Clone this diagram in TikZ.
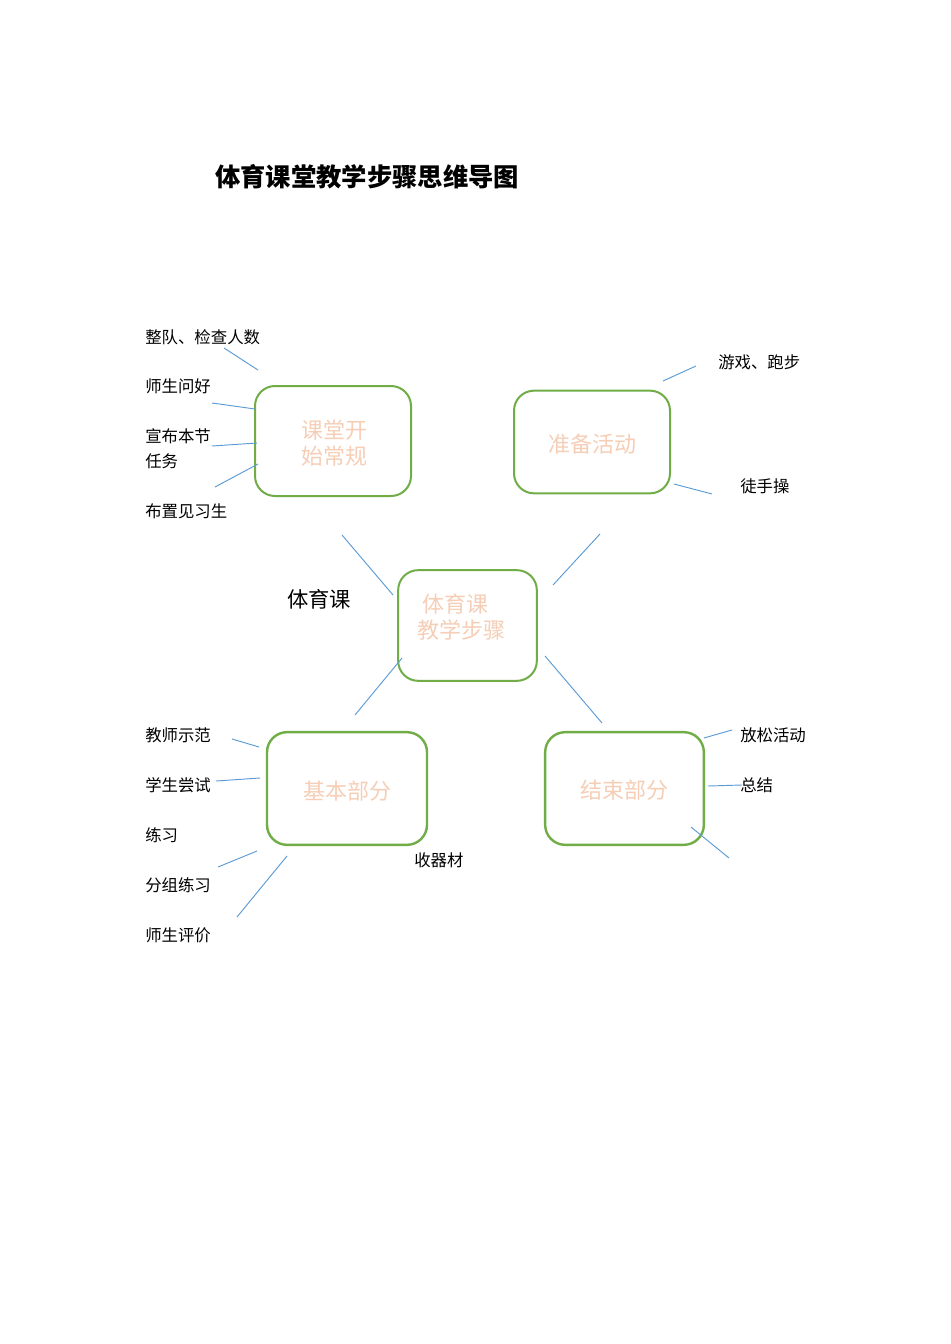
\documentclass[tikz,border=0pt]{standalone}
\usepackage{fontspec}
\setmainfont{Noto Sans CJK SC}
\definecolor{boxgreen}{RGB}{112,173,71}
\definecolor{linkblue}{RGB}{91,155,213}
\definecolor{boxtext}{RGB}{246,206,182}
\begin{document}
\begin{tikzpicture}[x=0.75pt,y=-0.75pt,
  mbox/.style={draw=boxgreen,line width=1.5pt,rounded corners=15pt,inner sep=0pt},
  btext/.style={text=boxtext,font=\fontsize{16.5}{19.5}\selectfont,align=center,inner sep=0pt},
  lbl/.style={anchor=west,inner sep=0pt,font=\fontsize{12.3}{14}\selectfont},
  link/.style={draw=linkblue,line width=0.7pt}]
\useasboundingbox (0,0) rectangle (950,1344);
\fill[white] (0,0) rectangle (950,1344);

% title
\node[inner sep=0pt,font=\fontsize{19}{22}\selectfont\bfseries] (title) at (367,177) {体育课堂教学步骤思维导图};

% boxes
\node[mbox,minimum width=117pt,minimum height=82.5pt] (b1) at (333,441) {};
\node[mbox,minimum width=117pt,minimum height=77pt] (b2) at (592,442) {};
\node[mbox,minimum width=104pt,minimum height=83pt] (b0) at (467.5,625.5) {};
\node[mbox,line width=1.8pt,minimum width=120pt,minimum height=84.5pt] (b3) at (347,788.5) {};
\node[mbox,line width=1.8pt,minimum width=119pt,minimum height=84.5pt] (b4) at (624.5,788.5) {};

% box texts
\node[btext] (t1) at (334,443.5) {课堂开\\始常规};
\node[btext] (t2) at (592,444) {准备活动};
\node[btext] (t0a) at (455,604) {体育课};
\node[btext] (t0b) at (461,630) {教学步骤};
\node[btext] (t3) at (347,791) {基本部分};
\node[btext] (t4) at (624,790) {结束部分};

% labels
\node[lbl] (l1) at (145,337) {整队、检查人数};
\node[lbl] (l2) at (145,386) {师生问好};
\node[lbl] (l3) at (145,436) {宣布本节};
\node[lbl] (l3b) at (145,461) {任务};
\node[lbl] (l4) at (145,511) {布置见习生};
\node[lbl] (r1) at (718,362) {游戏、跑步};
\node[lbl] (r2) at (740,486) {徒手操};
\node[lbl,font=\fontsize{16}{18}\selectfont] (mid) at (287,599) {体育课};
\node[lbl] (m1) at (145,735) {教师示范};
\node[lbl] (m2) at (145,785) {学生尝试};
\node[lbl] (m3) at (145,835) {练习};
\node[lbl] (m4) at (145,885) {分组练习};
\node[lbl] (m5) at (145,935) {师生评价};
\node[lbl] (m6) at (414,860) {收器材};
\node[lbl] (n1) at (740,735) {放松活动};
\node[lbl] (n2) at (740,785) {总结};

% connector end points
\coordinate (a1) at (224,348); \coordinate (a1e) at (258,370);
\coordinate (a2) at (212,403); \coordinate (a2e) at (255,409);
\coordinate (a3) at (212,446); \coordinate (a3e) at (257,443);
\coordinate (a4) at (215,487); \coordinate (a4e) at (258,464);
\coordinate (c1) at (663,381); \coordinate (c1e) at (696,366);
\coordinate (c2) at (674,484); \coordinate (c2e) at (712,494);
\coordinate (d1) at (342,535); \coordinate (d1e) at (393,595);
\coordinate (d2) at (553,585); \coordinate (d2e) at (600,534);
\coordinate (d3) at (402,658); \coordinate (d3e) at (355,715);
\coordinate (d4) at (545,656); \coordinate (d4e) at (602,723);
\coordinate (e1) at (232,739); \coordinate (e1e) at (259,747);
\coordinate (e2) at (216,781); \coordinate (e2e) at (260,778);
\coordinate (e3) at (218,867); \coordinate (e3e) at (257,851);
\coordinate (e4) at (237,917); \coordinate (e4e) at (287,856);
\coordinate (f1) at (704,738); \coordinate (f1e) at (732,730);
\coordinate (f2) at (708,786); \coordinate (f2e) at (742,785);
\coordinate (f3) at (691,827); \coordinate (f3e) at (729,858);

\foreach \p in {a1,a2,a3,a4,c1,c2,d1,d2,d3,d4,e1,e2,e3,e4,f1,f2,f3}
  \draw[link] (\p) -- (\p e);
\end{tikzpicture}
\end{document}
